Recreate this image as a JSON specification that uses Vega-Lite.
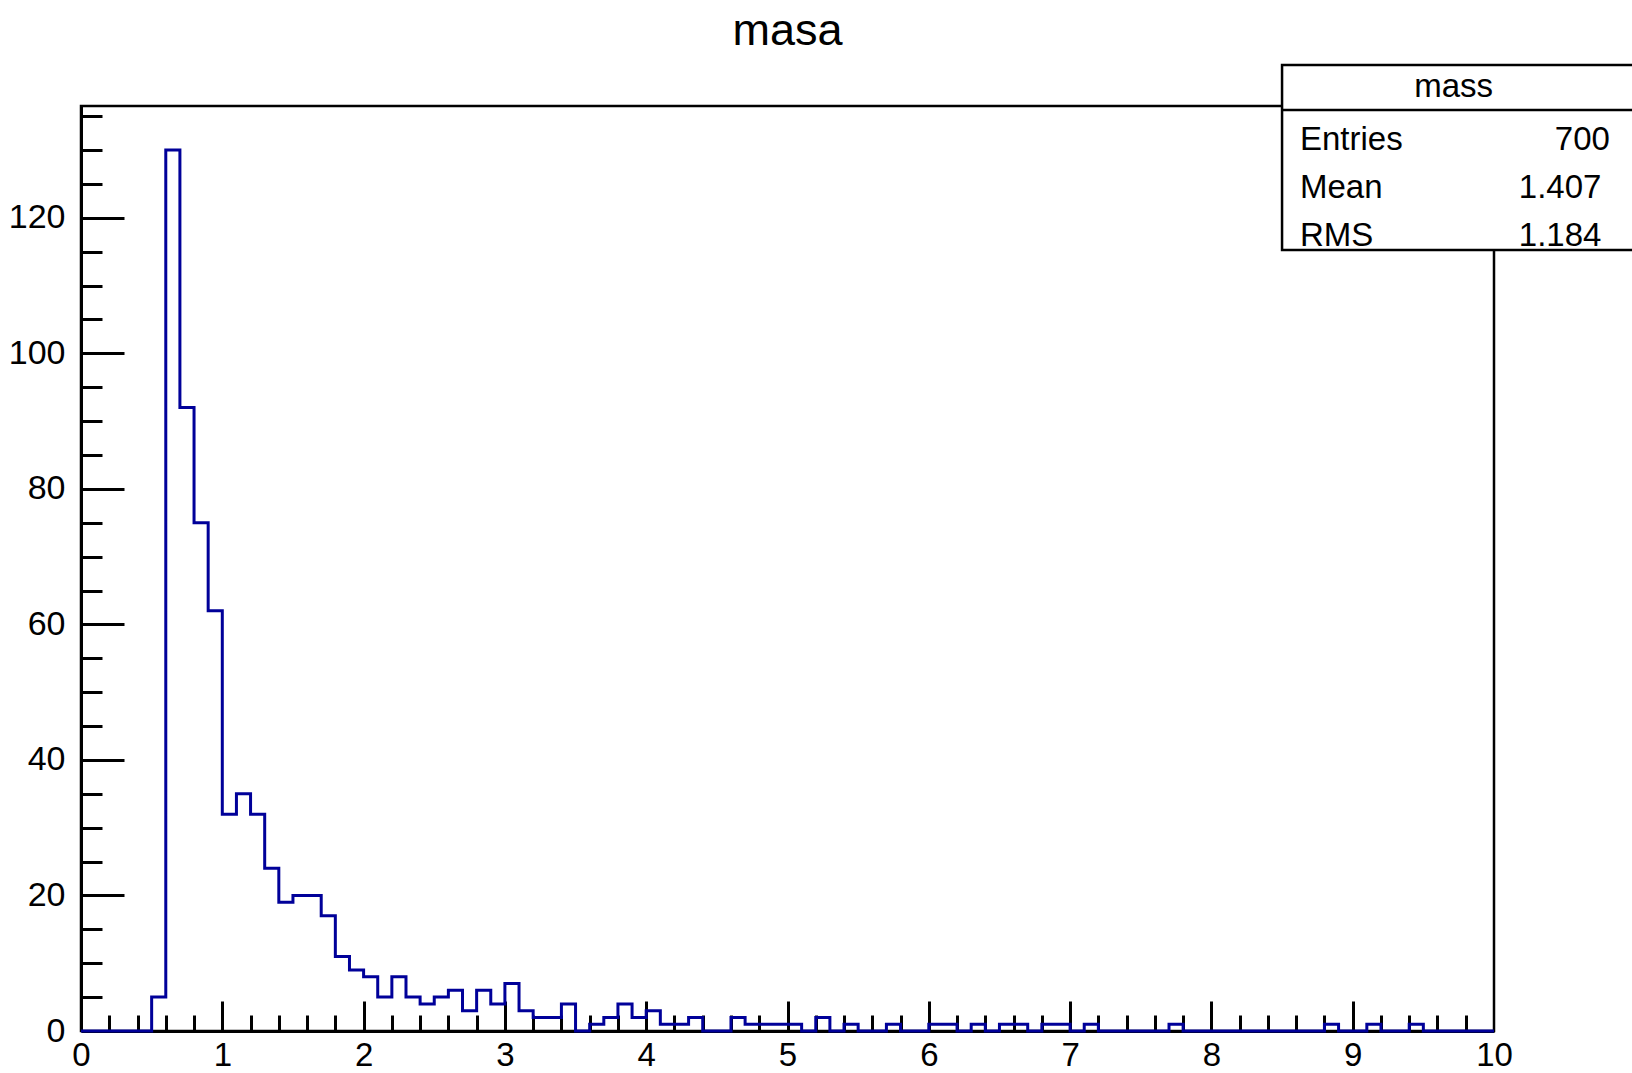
{
  "$schema": "https://vega.github.io/schema/vega-lite/v6.json",
  "autosize": "none",
  "width": 1413,
  "height": 925,
  "padding": {"left": 81, "top": 106, "right": 138, "bottom": 42},
  "background": "white",
  "title": {"text": "masa", "fontSize": 45, "font": "Liberation Sans", "fontWeight": "normal", "color": "black", "anchor": "middle", "frame": "group", "baseline": "alphabetic", "offset": -26},
  "config": {
    "view": {"stroke": "black", "strokeWidth": 2.5},
    "axis": {"grid": false, "title": null, "zindex": 1, "labelFont": "Liberation Sans", "labelColor": "black", "labelFontSize": 34, "domainColor": "black", "domainWidth": 3, "tickColor": "black", "tickWidth": 3}
  },
  "datasets": {
    "hist": [
      {"x": 0.0, "n": 0}, {"x": 0.1, "n": 0}, {"x": 0.2, "n": 0}, {"x": 0.3, "n": 0}, {"x": 0.4, "n": 0},
      {"x": 0.5, "n": 5}, {"x": 0.6, "n": 130}, {"x": 0.7, "n": 92}, {"x": 0.8, "n": 75}, {"x": 0.9, "n": 62},
      {"x": 1.0, "n": 32}, {"x": 1.1, "n": 35}, {"x": 1.2, "n": 32}, {"x": 1.3, "n": 24}, {"x": 1.4, "n": 19},
      {"x": 1.5, "n": 20}, {"x": 1.6, "n": 20}, {"x": 1.7, "n": 17}, {"x": 1.8, "n": 11}, {"x": 1.9, "n": 9},
      {"x": 2.0, "n": 8}, {"x": 2.1, "n": 5}, {"x": 2.2, "n": 8}, {"x": 2.3, "n": 5}, {"x": 2.4, "n": 4},
      {"x": 2.5, "n": 5}, {"x": 2.6, "n": 6}, {"x": 2.7, "n": 3}, {"x": 2.8, "n": 6}, {"x": 2.9, "n": 4},
      {"x": 3.0, "n": 7}, {"x": 3.1, "n": 3}, {"x": 3.2, "n": 2}, {"x": 3.3, "n": 2}, {"x": 3.4, "n": 4},
      {"x": 3.5, "n": 0}, {"x": 3.6, "n": 1}, {"x": 3.7, "n": 2}, {"x": 3.8, "n": 4}, {"x": 3.9, "n": 2},
      {"x": 4.0, "n": 3}, {"x": 4.1, "n": 1}, {"x": 4.2, "n": 1}, {"x": 4.3, "n": 2}, {"x": 4.4, "n": 0},
      {"x": 4.5, "n": 0}, {"x": 4.6, "n": 2}, {"x": 4.7, "n": 1}, {"x": 4.8, "n": 1}, {"x": 4.9, "n": 1},
      {"x": 5.0, "n": 1}, {"x": 5.1, "n": 0}, {"x": 5.2, "n": 2}, {"x": 5.3, "n": 0}, {"x": 5.4, "n": 1},
      {"x": 5.5, "n": 0}, {"x": 5.6, "n": 0}, {"x": 5.7, "n": 1}, {"x": 5.8, "n": 0}, {"x": 5.9, "n": 0},
      {"x": 6.0, "n": 1}, {"x": 6.1, "n": 1}, {"x": 6.2, "n": 0}, {"x": 6.3, "n": 1}, {"x": 6.4, "n": 0},
      {"x": 6.5, "n": 1}, {"x": 6.6, "n": 1}, {"x": 6.7, "n": 0}, {"x": 6.8, "n": 1}, {"x": 6.9, "n": 1},
      {"x": 7.0, "n": 0}, {"x": 7.1, "n": 1}, {"x": 7.2, "n": 0}, {"x": 7.3, "n": 0}, {"x": 7.4, "n": 0},
      {"x": 7.5, "n": 0}, {"x": 7.6, "n": 0}, {"x": 7.7, "n": 1}, {"x": 7.8, "n": 0}, {"x": 7.9, "n": 0},
      {"x": 8.0, "n": 0}, {"x": 8.1, "n": 0}, {"x": 8.2, "n": 0}, {"x": 8.3, "n": 0}, {"x": 8.4, "n": 0},
      {"x": 8.5, "n": 0}, {"x": 8.6, "n": 0}, {"x": 8.7, "n": 0}, {"x": 8.8, "n": 1}, {"x": 8.9, "n": 0},
      {"x": 9.0, "n": 0}, {"x": 9.1, "n": 1}, {"x": 9.2, "n": 0}, {"x": 9.3, "n": 0}, {"x": 9.4, "n": 1},
      {"x": 9.5, "n": 0}, {"x": 9.6, "n": 0}, {"x": 9.7, "n": 0}, {"x": 9.8, "n": 0}, {"x": 9.9, "n": 0},
      {"x": 10.0, "n": 0}
    ],
    "hdr": [{"name": "mass"}],
    "stats": [
      {"stat": "Entries", "value": "700"},
      {"stat": "Mean", "value": "1.407"},
      {"stat": "RMS", "value": "1.184"}
    ]
  },
  "resolve": {"axis": {"x": "independent", "y": "independent"}},
  "layer": [
    {
      "data": {"name": "hist"},
      "mark": {"type": "line", "interpolate": "step-after", "color": "#000099", "strokeWidth": 3, "strokeJoin": "miter", "strokeCap": "butt"},
      "encoding": {
        "x": {"field": "x", "type": "quantitative", "scale": {"domain": [0, 10], "nice": false, "zero": false},
              "axis": {"orient": "bottom", "values": [0,1,2,3,4,5,6,7,8,9,10], "ticks": false, "labelPadding": 8, "labelFontSize": 33, "labelFlush": false, "labelOverlap": false, "format": "d"}},
        "y": {"field": "n", "type": "quantitative", "scale": {"domain": [0, 136.5], "nice": false, "zero": true},
              "axis": {"orient": "left", "values": [0,20,40,60,80,100,120], "ticks": false, "labelPadding": 16, "labelFlush": false, "labelOverlap": false, "format": "d"}}
      }
    },
    {
      "data": {"name": "hdr"},
      "mark": {"type": "rect", "fill": "white", "stroke": "black", "strokeWidth": 2.5, "clip": false},
      "encoding": {
        "x": {"datum": 8.5, "type": "quantitative",
              "axis": {"orient": "bottom", "values": [1,2,3,4,5,6,7,8,9], "labels": false, "domain": false, "tickSize": -30}},
        "x2": {"datum": 11.2},
        "y": {"datum": 142.55, "type": "quantitative",
              "axis": {"orient": "left", "values": [20,40,60,80,100,120], "labels": false, "domain": false, "tickSize": -43}},
        "y2": {"datum": 115.25}
      }
    },
    {
      "data": {"name": "hdr"},
      "mark": {"type": "rule", "stroke": "black", "strokeWidth": 2.5},
      "encoding": {
        "x": {"datum": 8.5, "type": "quantitative",
              "axis": {"orient": "bottom", "values": [0.2,0.4,0.6,0.8,1.2,1.4,1.6,1.8,2.2,2.4,2.6,2.8,3.2,3.4,3.6,3.8,4.2,4.4,4.6,4.8,5.2,5.4,5.6,5.8,6.2,6.4,6.6,6.8,7.2,7.4,7.6,7.8,8.2,8.4,8.6,8.8,9.2,9.4,9.6,9.8], "labels": false, "domain": false, "tickSize": -16}},
        "x2": {"datum": 11.2},
        "y": {"datum": 135.9, "type": "quantitative",
              "axis": {"orient": "left", "values": [5,10,15,25,30,35,45,50,55,65,70,75,85,90,95,105,110,115,125,130,135], "labels": false, "domain": false, "tickSize": -21}}
      }
    },
    {
      "data": {"name": "hdr"},
      "mark": {"type": "text", "font": "Liberation Sans", "fontSize": 33, "color": "black", "align": "center", "baseline": "alphabetic"},
      "encoding": {
        "x": {"datum": 9.714, "type": "quantitative", "axis": null},
        "y": {"datum": 137.83, "type": "quantitative", "axis": null},
        "text": {"field": "name"}
      }
    },
    {
      "data": {"name": "stats"},
      "transform": [{"filter": "datum.stat === 'Entries'"}],
      "mark": {"type": "text", "font": "Liberation Sans", "fontSize": 33, "color": "black", "align": "left", "baseline": "alphabetic"},
      "encoding": {
        "x": {"datum": 8.627, "type": "quantitative", "axis": null},
        "y": {"datum": 130.0, "type": "quantitative", "axis": null},
        "text": {"field": "stat"}
      }
    },
    {
      "data": {"name": "stats"},
      "transform": [{"filter": "datum.stat === 'Entries'"}],
      "mark": {"type": "text", "font": "Liberation Sans", "fontSize": 33, "color": "black", "align": "right", "baseline": "alphabetic"},
      "encoding": {
        "x": {"datum": 10.82, "type": "quantitative", "axis": null},
        "y": {"datum": 130.0, "type": "quantitative", "axis": null},
        "text": {"field": "value"}
      }
    },
    {
      "data": {"name": "stats"},
      "transform": [{"filter": "datum.stat === 'Mean'"}],
      "mark": {"type": "text", "font": "Liberation Sans", "fontSize": 33, "color": "black", "align": "left", "baseline": "alphabetic"},
      "encoding": {
        "x": {"datum": 8.627, "type": "quantitative", "axis": null},
        "y": {"datum": 122.88, "type": "quantitative", "axis": null},
        "text": {"field": "stat"}
      }
    },
    {
      "data": {"name": "stats"},
      "transform": [{"filter": "datum.stat === 'Mean'"}],
      "mark": {"type": "text", "font": "Liberation Sans", "fontSize": 33, "color": "black", "align": "right", "baseline": "alphabetic"},
      "encoding": {
        "x": {"datum": 10.76, "type": "quantitative", "axis": null},
        "y": {"datum": 122.88, "type": "quantitative", "axis": null},
        "text": {"field": "value"}
      }
    },
    {
      "data": {"name": "stats"},
      "transform": [{"filter": "datum.stat === 'RMS'"}],
      "mark": {"type": "text", "font": "Liberation Sans", "fontSize": 33, "color": "black", "align": "left", "baseline": "alphabetic"},
      "encoding": {
        "x": {"datum": 8.627, "type": "quantitative", "axis": null},
        "y": {"datum": 115.84, "type": "quantitative", "axis": null},
        "text": {"field": "stat"}
      }
    },
    {
      "data": {"name": "stats"},
      "transform": [{"filter": "datum.stat === 'RMS'"}],
      "mark": {"type": "text", "font": "Liberation Sans", "fontSize": 33, "color": "black", "align": "right", "baseline": "alphabetic"},
      "encoding": {
        "x": {"datum": 10.76, "type": "quantitative", "axis": null},
        "y": {"datum": 115.84, "type": "quantitative", "axis": null},
        "text": {"field": "value"}
      }
    }
  ]
}
